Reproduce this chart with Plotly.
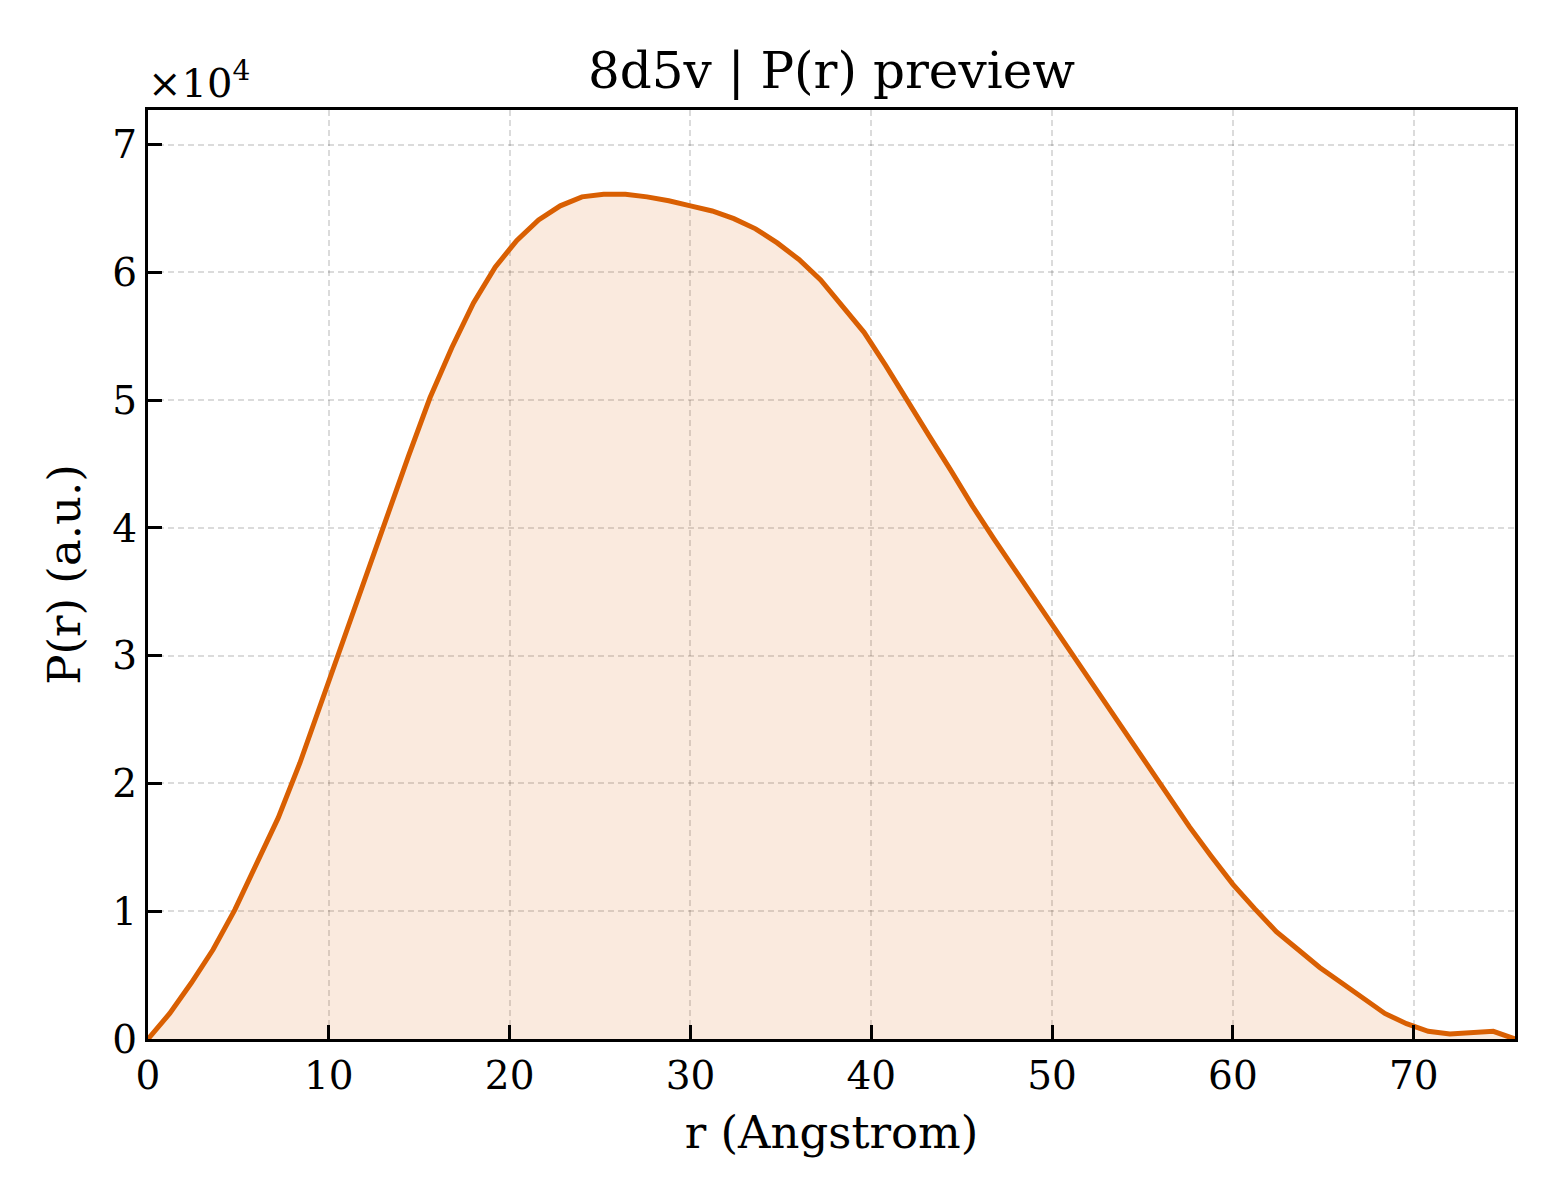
import plotly.graph_objects as go

# r grid (Angstrom), 1.2 A spacing
r_values = [round(1.2 * i, 2) for i in range(64)]
# P(r) in units of 1e4
p_scaled = [0.00, 0.20, 0.44, 0.70, 1.01, 1.36, 1.73, 2.16, 2.64, 3.11,
            3.60, 4.09, 4.56, 5.02, 5.41, 5.76, 6.04, 6.25, 6.41, 6.52,
            6.59, 6.61, 6.61, 6.59, 6.56, 6.52, 6.48, 6.42, 6.34, 6.23,
            6.10, 5.94, 5.74, 5.53, 5.27, 4.99, 4.72, 4.45, 4.17, 3.91,
            3.66, 3.41, 3.16, 2.92, 2.67, 2.42, 2.17, 1.91, 1.66, 1.43,
            1.21, 1.02, 0.84, 0.70, 0.56, 0.44, 0.32, 0.20, 0.12, 0.06,
            0.04, 0.05, 0.06, 0.00]
p_values = [v * 1e4 for v in p_scaled]

x_ticks = [0, 10, 20, 30, 40, 50, 60, 70]
y_ticks = [0, 10000, 20000, 30000, 40000, 50000, 60000, 70000]
y_ticktext = ["0", "1", "2", "3", "4", "5", "6", "7"]

title_text = "8d5v | P(r) preview"
x_label = "r (Angstrom)"
y_label = "P(r) (a.u.)"

LINE = "#D95F02"
FONT = "DejaVu Serif"

fig = go.Figure()
fig.add_trace(go.Scatter(
    x=r_values, y=p_values, mode="lines",
    line=dict(color=LINE, width=5),
    fill="tozeroy", fillcolor="rgba(217,95,2,0.13)",
    showlegend=False,
))

axis_common = dict(
    showline=True, linecolor="black", linewidth=3, mirror=True,
    ticks="inside", ticklen=14, tickwidth=2.5, tickcolor="black",
    showgrid=True, gridcolor="rgba(0,0,0,0.14)", griddash="6px,4px", gridwidth=1.5,
    zeroline=False,
    tickfont=dict(family=FONT, size=39, color="black"),
)

fig.update_xaxes(range=[0, 75.6], tickvals=x_ticks,
                 title=dict(text=x_label, font=dict(family=FONT, size=45, color="black"), standoff=20),
                 **axis_common)
fig.update_yaxes(range=[0, 72700], tickvals=y_ticks, ticktext=y_ticktext,
                 title=dict(text=y_label, font=dict(family=FONT, size=45, color="black"), standoff=18),
                 **axis_common)

fig.update_layout(
    width=1560, height=1200,
    margin=dict(l=140, r=53, t=102, b=169),
    paper_bgcolor="white", plot_bgcolor="white",
    title=dict(text=title_text, x=0.5, xref="paper", xanchor="center",
               y=1, yref="paper", yanchor="bottom", pad=dict(b=22),
               font=dict(family=FONT, size=50, color="black")),
    font=dict(family=FONT, color="black"),
)

fig.add_annotation(text="×10<sup>4</sup>", xref="paper", yref="paper",
                   x=0, y=1, xanchor="left", yanchor="bottom", yshift=2, xshift=-2,
                   showarrow=False, font=dict(family=FONT, size=40, color="black"))

fig.write_html("out.html")
